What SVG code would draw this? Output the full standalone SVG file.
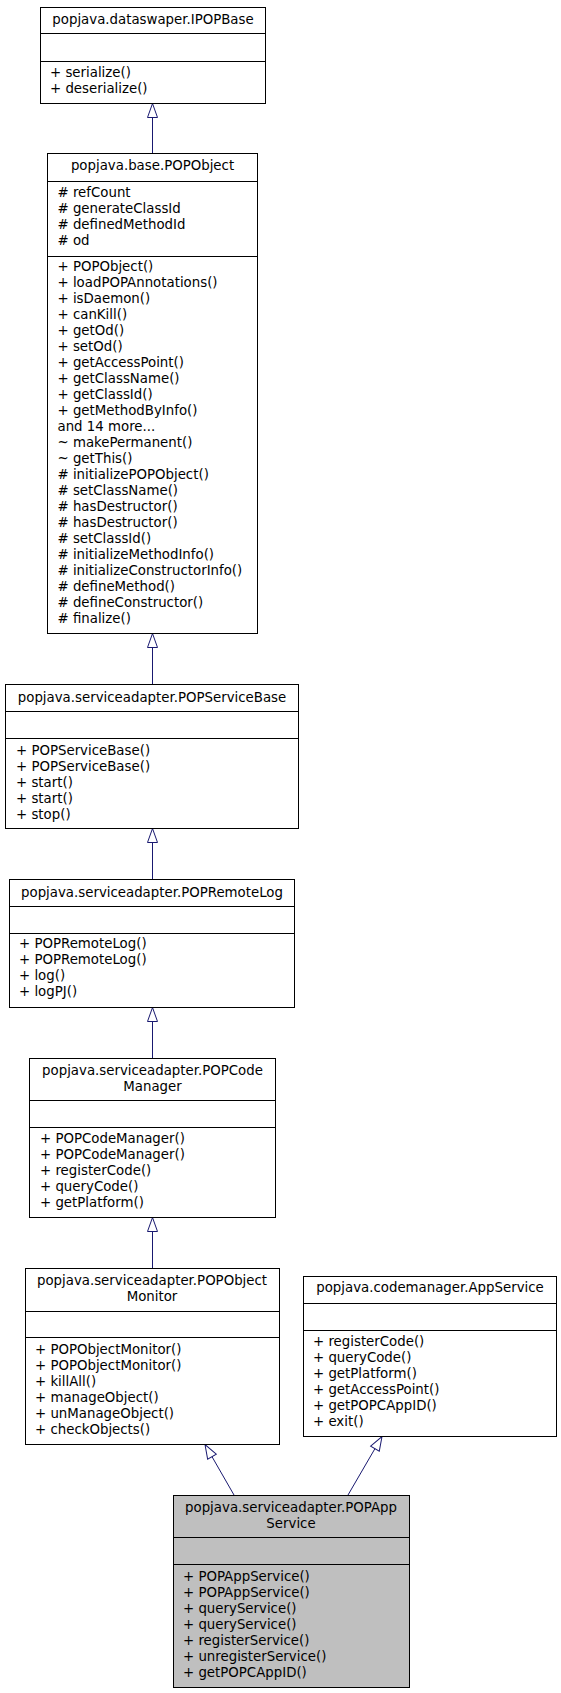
<svg xmlns="http://www.w3.org/2000/svg" width="561" height="1693" viewBox="0 0 561 1693">
<style>
  .box { fill: #ffffff; stroke: #000000; stroke-width: 1; }
  .cur { fill: #bfbfbf; stroke: #000000; stroke-width: 1; }
  .div { stroke: #000000; stroke-width: 1; }
  text { font-family: "DejaVu Sans", "Liberation Sans", sans-serif; font-size: 13.33px; fill: #000000; }
  .t { text-anchor: middle; }
  .edge { stroke: #191970; stroke-width: 1; fill: none; marker-end: url(#tri); }
</style>
<defs>
  <marker id="tri" markerUnits="userSpaceOnUse" markerWidth="16" markerHeight="12" refX="14" refY="5" orient="auto" overflow="visible">
    <path d="M0,0 L14,5 L0,10 Z" fill="#ffffff" stroke="#191970" stroke-width="1"/>
  </marker>
</defs>
<rect width="561" height="1693" fill="#ffffff"/>

<g id="connectors">
  <line class="edge" x1="152.5" y1="153" x2="152.5" y2="103.5"/>
  <line class="edge" x1="152.5" y1="684" x2="152.5" y2="633.5"/>
  <line class="edge" x1="152.5" y1="879" x2="152.5" y2="828.5"/>
  <line class="edge" x1="152.5" y1="1058" x2="152.5" y2="1007.5"/>
  <line class="edge" x1="152.5" y1="1268" x2="152.5" y2="1217.5"/>
  <line class="edge" x1="234" y1="1495" x2="205" y2="1444.5"/>
  <line class="edge" x1="348" y1="1495" x2="382" y2="1436.5"/>
</g>

<g id="IPOPBase">
  <rect class="box" x="40.5" y="7.5" width="225" height="96"/>
  <line class="div" x1="40.5" y1="33.5" x2="265.5" y2="33.5"/>
  <line class="div" x1="40.5" y1="61.5" x2="265.5" y2="61.5"/>
  <text class="t" x="153" y="24">popjava.dataswaper.IPOPBase</text>
  <text x="50" y="77">+ serialize()</text>
  <text x="50" y="93">+ deserialize()</text>
</g>

<g id="POPObject">
  <rect class="box" x="47.5" y="153.5" width="210" height="480"/>
  <line class="div" x1="47.5" y1="181.5" x2="257.5" y2="181.5"/>
  <line class="div" x1="47.5" y1="256.5" x2="257.5" y2="256.5"/>
  <text class="t" x="152.5" y="170">popjava.base.POPObject</text>
  <text x="57.5" y="197"># refCount</text>
  <text x="57.5" y="213"># generateClassId</text>
  <text x="57.5" y="229"># definedMethodId</text>
  <text x="57.5" y="245"># od</text>
  <text x="57.5" y="271">+ POPObject()</text>
  <text x="57.5" y="287">+ loadPOPAnnotations()</text>
  <text x="57.5" y="303">+ isDaemon()</text>
  <text x="57.5" y="319">+ canKill()</text>
  <text x="57.5" y="335">+ getOd()</text>
  <text x="57.5" y="351">+ setOd()</text>
  <text x="57.5" y="367">+ getAccessPoint()</text>
  <text x="57.5" y="383">+ getClassName()</text>
  <text x="57.5" y="399">+ getClassId()</text>
  <text x="57.5" y="415">+ getMethodByInfo()</text>
  <text x="57.5" y="431">and 14 more...</text>
  <text x="57.5" y="447">~ makePermanent()</text>
  <text x="57.5" y="463">~ getThis()</text>
  <text x="57.5" y="479"># initializePOPObject()</text>
  <text x="57.5" y="495"># setClassName()</text>
  <text x="57.5" y="511"># hasDestructor()</text>
  <text x="57.5" y="527"># hasDestructor()</text>
  <text x="57.5" y="543"># setClassId()</text>
  <text x="57.5" y="559"># initializeMethodInfo()</text>
  <text x="57.5" y="575"># initializeConstructorInfo()</text>
  <text x="57.5" y="591"># defineMethod()</text>
  <text x="57.5" y="607"># defineConstructor()</text>
  <text x="57.5" y="623"># finalize()</text>
</g>

<g id="POPServiceBase">
  <rect class="box" x="5.5" y="684.5" width="293" height="144"/>
  <line class="div" x1="5.5" y1="711.5" x2="298.5" y2="711.5"/>
  <line class="div" x1="5.5" y1="738.5" x2="298.5" y2="738.5"/>
  <text class="t" x="152" y="702">popjava.serviceadapter.POPServiceBase</text>
  <text x="16" y="755">+ POPServiceBase()</text>
  <text x="16" y="771">+ POPServiceBase()</text>
  <text x="16" y="787">+ start()</text>
  <text x="16" y="803">+ start()</text>
  <text x="16" y="819">+ stop()</text>
</g>

<g id="POPRemoteLog">
  <rect class="box" x="9.5" y="879.5" width="285" height="128"/>
  <line class="div" x1="9.5" y1="906.5" x2="294.5" y2="906.5"/>
  <line class="div" x1="9.5" y1="933.5" x2="294.5" y2="933.5"/>
  <text class="t" x="152" y="897">popjava.serviceadapter.POPRemoteLog</text>
  <text x="19" y="948">+ POPRemoteLog()</text>
  <text x="19" y="964">+ POPRemoteLog()</text>
  <text x="19" y="980">+ log()</text>
  <text x="19" y="996">+ logPJ()</text>
</g>

<g id="POPCodeManager">
  <rect class="box" x="29.5" y="1058.5" width="246" height="159"/>
  <line class="div" x1="29.5" y1="1100.5" x2="275.5" y2="1100.5"/>
  <line class="div" x1="29.5" y1="1127.5" x2="275.5" y2="1127.5"/>
  <text class="t" x="152.5" y="1075">popjava.serviceadapter.POPCode</text>
  <text class="t" x="152.5" y="1091">Manager</text>
  <text x="40" y="1143">+ POPCodeManager()</text>
  <text x="40" y="1159">+ POPCodeManager()</text>
  <text x="40" y="1175">+ registerCode()</text>
  <text x="40" y="1191">+ queryCode()</text>
  <text x="40" y="1207">+ getPlatform()</text>
</g>

<g id="POPObjectMonitor">
  <rect class="box" x="25.5" y="1268.5" width="254" height="176"/>
  <line class="div" x1="25.5" y1="1311.5" x2="279.5" y2="1311.5"/>
  <line class="div" x1="25.5" y1="1337.5" x2="279.5" y2="1337.5"/>
  <text class="t" x="152" y="1285">popjava.serviceadapter.POPObject</text>
  <text class="t" x="152" y="1301">Monitor</text>
  <text x="35" y="1354">+ POPObjectMonitor()</text>
  <text x="35" y="1370">+ POPObjectMonitor()</text>
  <text x="35" y="1386">+ killAll()</text>
  <text x="35" y="1402">+ manageObject()</text>
  <text x="35" y="1418">+ unManageObject()</text>
  <text x="35" y="1434">+ checkObjects()</text>
</g>

<g id="AppService">
  <rect class="box" x="303.5" y="1276.5" width="253" height="160"/>
  <line class="div" x1="303.5" y1="1303.5" x2="556.5" y2="1303.5"/>
  <line class="div" x1="303.5" y1="1330.5" x2="556.5" y2="1330.5"/>
  <text class="t" x="430" y="1292">popjava.codemanager.AppService</text>
  <text x="313" y="1346">+ registerCode()</text>
  <text x="313" y="1362">+ queryCode()</text>
  <text x="313" y="1378">+ getPlatform()</text>
  <text x="313" y="1394">+ getAccessPoint()</text>
  <text x="313" y="1410">+ getPOPCAppID()</text>
  <text x="313" y="1426">+ exit()</text>
</g>

<g id="POPAppService">
  <rect class="cur" x="173.5" y="1495.5" width="236" height="192"/>
  <line class="div" x1="173.5" y1="1537.5" x2="409.5" y2="1537.5"/>
  <line class="div" x1="173.5" y1="1564.5" x2="409.5" y2="1564.5"/>
  <text class="t" x="291" y="1512">popjava.serviceadapter.POPApp</text>
  <text class="t" x="291" y="1528">Service</text>
  <text x="183" y="1581">+ POPAppService()</text>
  <text x="183" y="1597">+ POPAppService()</text>
  <text x="183" y="1613">+ queryService()</text>
  <text x="183" y="1629">+ queryService()</text>
  <text x="183" y="1645">+ registerService()</text>
  <text x="183" y="1661">+ unregisterService()</text>
  <text x="183" y="1677">+ getPOPCAppID()</text>
</g>
</svg>
